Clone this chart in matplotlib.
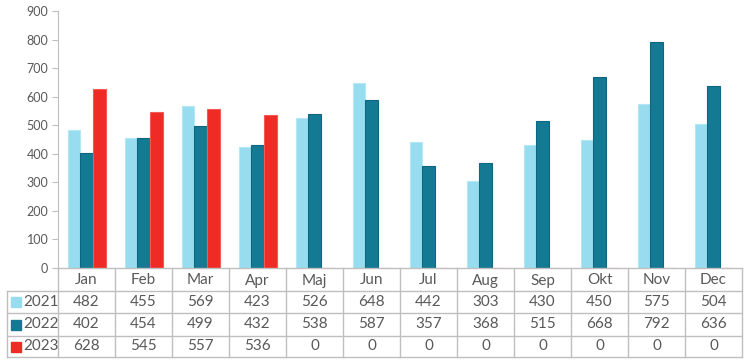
import matplotlib

matplotlib.use("Agg")

import matplotlib.pyplot as plt
import numpy as np
from matplotlib.patches import Rectangle

months = ["Jan", "Feb", "Mar", "Apr", "Maj", "Jun", "Jul", "Aug", "Sep", "Okt", "Nov", "Dec"]
years = ["2021", "2022", "2023"]
v2021 = [482, 455, 569, 423, 526, 648, 442, 303, 430, 450, 575, 504]
v2022 = [402, 454, 499, 432, 538, 587, 357, 368, 515, 668, 792, 636]
v2023 = [628, 545, 557, 536, 0, 0, 0, 0, 0, 0, 0, 0]
yticks = [0, 100, 200, 300, 400, 500, 600, 700, 800, 900]

series = [v2021, v2022, v2023]
fills = ["#97DDEF", "#147A94", "#EE2B24"]
edges = ["#B5E7F4", "#0F6680", "#F25B55"]
grid_col = "#BFBFBF"
text_col = "#595959"

plt.rcParams["font.family"] = ["Lato", "DejaVu Sans"]

W, H = 746, 364
fig = plt.figure(figsize=(W / 100, H / 100), dpi=100)
x0, x1, y_top, y_axis = 58, 742, 11, 268
ax = fig.add_axes([x0 / W, 1 - y_axis / H, (x1 - x0) / W, (y_axis - y_top) / H])

n = len(months)
bw = 1 / 4.5
x = np.arange(n)
for i, (vals, fc, ec) in enumerate(zip(series, fills, edges)):
    ax.bar(x + (i - 1) * bw, vals, width=bw, color=fc, edgecolor=ec, linewidth=0.8)

ax.set_xlim(-0.5, n - 0.5)
ax.set_ylim(0, 900)
ax.set_yticks(yticks)
ax.tick_params(axis="y", length=4, color=grid_col, labelsize=9, labelcolor=text_col, pad=3)
ax.set_xticks([])
for side in ["top", "right", "bottom"]:
    ax.spines[side].set_visible(False)
ax.spines["left"].set_color(grid_col)

# data table under the axis, drawn in figure pixels
def fy(py):
    return 1 - py / H

def fx(px):
    return px / W

row_y = [268, 291, 313, 336, 357]
left = 7
lw = 1.0
for py in row_y:
    xs = (x0 if py == 268 else left, x1)
    fig.add_artist(plt.Line2D([fx(xs[0]), fx(xs[1])], [fy(py), fy(py)], color=grid_col, lw=lw))
col_w = (x1 - x0) / n
for k in range(n + 1):
    px = x0 + k * col_w
    fig.add_artist(plt.Line2D([fx(px), fx(px)], [fy(268), fy(357)], color=grid_col, lw=lw))
fig.add_artist(plt.Line2D([fx(left), fx(left)], [fy(291), fy(357)], color=grid_col, lw=lw))

fs = 11
for k, m in enumerate(months):
    cx = x0 + (k + 0.5) * col_w
    fig.text(fx(cx), fy((row_y[0] + row_y[1]) / 2 + 1), m, ha="center", va="center",
             fontsize=fs, color=text_col)
    for r, vals in enumerate(series):
        cy = (row_y[r + 1] + row_y[r + 2]) / 2
        fig.text(fx(cx), fy(cy), str(vals[k]), ha="center", va="center",
                 fontsize=fs, color=text_col)

for r, (yr, fc) in enumerate(zip(years, fills)):
    cy = (row_y[r + 1] + row_y[r + 2]) / 2
    fig.add_artist(Rectangle((fx(11), fy(cy + 5)), 10 / W, 10 / H, color=fc,
                             transform=fig.transFigure))
    fig.text(fx(23), fy(cy), yr, ha="left", va="center", fontsize=fs, color=text_col)

fig.savefig("out.png", dpi=100)
